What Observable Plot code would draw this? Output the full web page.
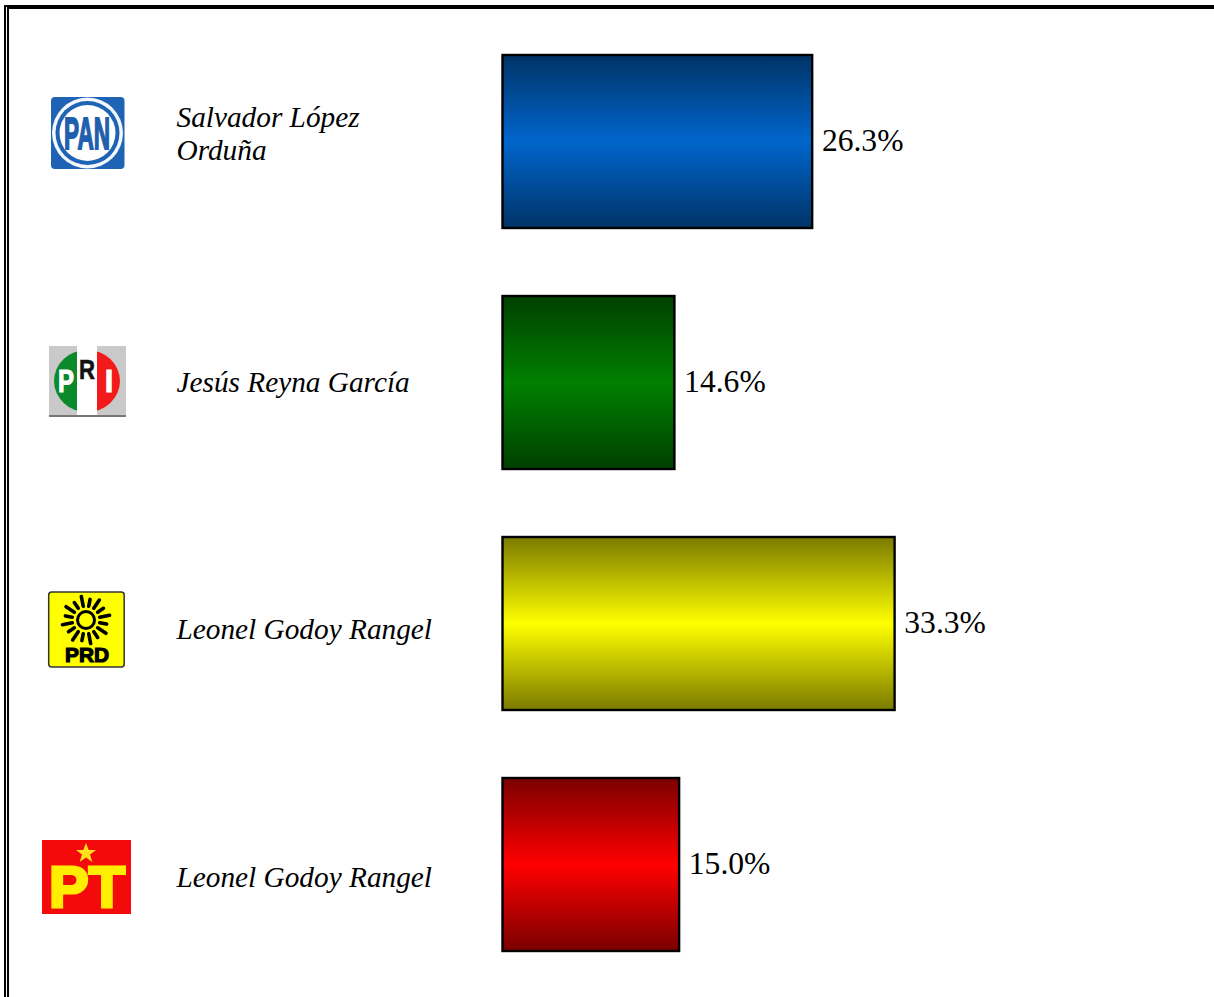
<!DOCTYPE html>
<html><head><meta charset="utf-8">
<script src="https://cdn.jsdelivr.net/npm/d3@7"></script>
<script src="https://cdn.jsdelivr.net/npm/@observablehq/plot@0.6"></script>
<style>
html,body{margin:0;padding:0;background:#fff;overflow:hidden}
#wrap{position:relative;width:1214px;height:997px;overflow:hidden}
#wrap svg{display:block}
#frame{position:absolute;left:4px;top:5px;width:1300px;height:1100px;border-top:4px solid #000;border-left:5px double #000;pointer-events:none}
</style></head><body>
<div id="wrap"><div id="frame"></div></div>
<script>
const parties = ["PAN", "PRI", "PRD", "PT"];
const candidates = ["Salvador López\nOrduña", "Jesús Reyna García", "Leonel Godoy Rangel", "Leonel Godoy Rangel"];
const shares = [26.3, 14.6, 33.3, 15.0];
const midColors = ["#0066cc", "#008000", "#ffff00", "#ff0000"];
const edgeColors = ["#003366", "#004000", "#7a7a00", "#7a0000"];

const rows = parties.map((party, i) => ({party, candidate: candidates[i], share: shares[i], grad: `url(#grad-${party})`}));
const serif = "'Liberation Serif','Times New Roman',serif";
const sans = "'Liberation Sans',Arial,sans-serif";
const narrow = "'Liberation Sans Narrow','Liberation Sans',Arial,sans-serif";
const labelShift = [-9, -2, 4, 11];

const defsMark = () => {
  const defs = d3.create("svg:defs");
  parties.forEach((p, i) => {
    const g = defs.append("linearGradient").attr("id", `grad-${p}`).attr("x1", 0).attr("x2", 0).attr("y1", 0).attr("y2", 1);
    [[0, edgeColors[i]], [.5, midColors[i]], [1, edgeColors[i]]].forEach(([o, c]) =>
      g.append("stop").attr("offset", o).attr("stop-color", c));
  });
  return defs.node();
};

const rays = d3.range(16).map(k => {
  const a = (k + .5) * Math.PI / 8, c = Math.cos(a), s = Math.sin(a);
  const r2 = k % 2 ? 24 : 21;
  return `<line x1="${86 + 14 * c}" y1="${620 + 14 * s}" x2="${86 + r2 * c}" y2="${620 + r2 * s}" stroke="#000" stroke-width="3.6" stroke-linecap="round"/>`;
}).join("");

const logos = `
<rect x="51" y="97" width="73.5" height="72" rx="4" fill="#1f63b4"/>
<circle cx="87.5" cy="133" r="35.5" fill="#f4f8fc"/>
<circle cx="87.5" cy="133" r="32" fill="#1f63b4"/>
<circle cx="87.5" cy="133" r="28" fill="#fff"/>
<text x="87" y="149" text-anchor="middle" font-family="${narrow}" font-weight="700" font-size="44" fill="#1f5fae" stroke="#1f5fae" stroke-width="1.8" textLength="46" lengthAdjust="spacingAndGlyphs">PAN</text>

<clipPath id="priL"><rect x="49" y="346" width="28" height="70"/></clipPath>
<clipPath id="priR"><rect x="97" y="346" width="29" height="70"/></clipPath>
<rect x="49" y="346" width="77" height="70" fill="#c9c9c9"/>
<rect x="77" y="346" width="20" height="70" fill="#fff"/>
<rect x="49" y="415" width="77" height="2" fill="#777"/>
<ellipse cx="87" cy="381" rx="33" ry="31" fill="#0a8a2a" clip-path="url(#priL)"/>
<ellipse cx="87" cy="381" rx="33" ry="31" fill="#f21a1a" clip-path="url(#priR)"/>
<text x="66" y="392" text-anchor="middle" font-family="${sans}" font-weight="700" font-size="31" fill="#fff" stroke="#fff" stroke-width="1" textLength="16" lengthAdjust="spacingAndGlyphs">P</text>
<text x="87" y="379" text-anchor="middle" font-family="${sans}" font-weight="700" font-size="27" fill="#111" stroke="#111" stroke-width=".6" textLength="16" lengthAdjust="spacingAndGlyphs">R</text>
<text x="109" y="392" text-anchor="middle" font-family="${sans}" font-weight="700" font-size="31" fill="#fff" stroke="#fff" stroke-width=".8">I</text>

<rect x="48.7" y="592" width="75.5" height="75" rx="3" fill="#ffff00" stroke="#333" stroke-width="1.5"/>
${rays}
<circle cx="86" cy="620" r="8.5" fill="none" stroke="#000" stroke-width="3"/>
<text x="87" y="662" text-anchor="middle" font-family="${sans}" font-weight="700" font-size="21" fill="#000" stroke="#000" stroke-width="1.2" textLength="44" lengthAdjust="spacingAndGlyphs">PRD</text>

<rect x="42" y="840" width="89" height="74" fill="#f40a0a"/>
<polygon points="86,843 88.7,850 96,850 90,854.6 92.3,862 86,857.6 79.7,862 82,854.6 76,850 83.3,850" fill="#ffe01a"/>
<text x="87" y="907" text-anchor="middle" font-family="${sans}" font-weight="700" font-size="57" fill="#ffee00" stroke="#ffee00" stroke-width="3" textLength="76" lengthAdjust="spacingAndGlyphs">PT</text>`;

const logosMark = () => {
  const g = d3.create("svg:g");
  g.html(logos);
  return g.node();
};

const chart = Plot.plot({
  width: 1214, height: 997,
  marginTop: 0, marginRight: 0, marginBottom: 0, marginLeft: 0,
  style: {background: "transparent"},
  x: {domain: [0, 60], range: [502.5, 1209], axis: null},
  y: {domain: parties, range: [54.5, 951.5], paddingInner: .2815, paddingOuter: 0, axis: null},
  color: {type: "identity"},
  marks: [
    defsMark,
    Plot.barX(rows, {x1: 0, x2: "share", y: "party", fill: "grad", stroke: "#000", strokeWidth: 2.4}),
    Plot.text(rows, {x: "share", y: "party", dy: -0.7, text: d => d.share.toFixed(1) + "%", dx: 9.2, textAnchor: "start", fill: "#000", fontSize: 31.6, fontFamily: serif}),
    ...rows.map((r, i) => Plot.text([r], {frameAnchor: "left", dx: 176, y: "party", dy: labelShift[i], text: "candidate", textAnchor: "start", lineHeight: 1.13, fill: "#000", fontSize: 29.3, fontStyle: "italic", fontFamily: serif})),
    logosMark
  ]
});
document.getElementById("wrap").prepend(chart);
</script>
</body></html>
